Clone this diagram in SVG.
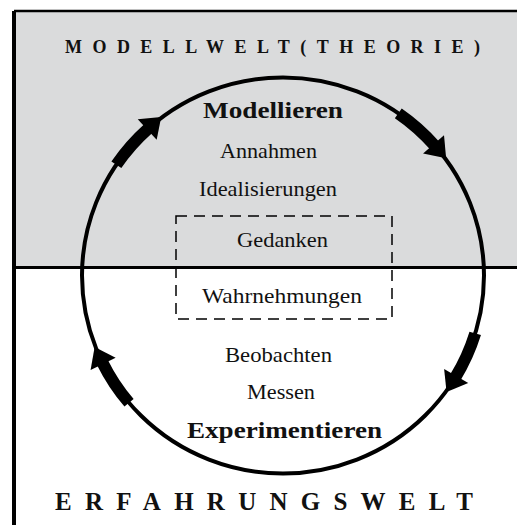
<svg xmlns="http://www.w3.org/2000/svg" width="517" height="525" viewBox="0 0 517 525">
  <defs>
    <style>
      .t { font-family: "Liberation Serif", "Times New Roman", serif; fill: #111; }
      .reg { font-size: 21px; }
      .big { font-size: 24px; font-weight: bold; }
      .cap { font-weight: bold; }
      .circle { fill: none; stroke: #000; stroke-width: 4; }
      .bar { fill: none; stroke: #000; stroke-width: 12; stroke-linecap: butt; }
      .head { fill: #000; }
    </style>
    <g id="arrowShape">
      <path class="bar" d="M201,0 A201,201 0 0 1 195.03,48.63"/>
      <polygon class="head" points="209.06,50.18 191.02,65.40 181.84,43.66"/>
    </g>
  </defs>

  <rect x="0" y="0" width="517" height="525" fill="#fff"/>

  <g id="modellwelt-region">
    <rect x="14" y="11" width="503" height="257" fill="#dadbdc"/>
    <line x1="14" y1="11" x2="517" y2="11" stroke="#000" stroke-width="2.5"/>
    <text class="t cap" x="65" y="53" font-size="18" textLength="415" lengthAdjust="spacing">MODELLWELT(THEORIE)</text>
  </g>

  <g id="erfahrungswelt-region">
    <line x1="14" y1="11" x2="14" y2="525" stroke="#000" stroke-width="4"/>
    <line x1="14" y1="267.5" x2="517" y2="267.5" stroke="#000" stroke-width="3"/>
    <text class="t cap" x="55" y="510" font-size="25" textLength="418" lengthAdjust="spacing">ERFAHRUNGSWELT</text>
  </g>

  <g id="cycle">
    <g transform="translate(283 275.5) scale(1 0.985)">
      <circle class="circle" cx="0" cy="0" r="201"/>
    </g>
  </g>

  <g id="connectors" transform="translate(283 275.5) scale(1 0.985)">
    <use href="#arrowShape" transform="rotate(214)"/>
    <use href="#arrowShape" transform="rotate(305)"/>
    <use href="#arrowShape" transform="rotate(17)"/>
    <use href="#arrowShape" transform="rotate(140)"/>
  </g>

  <g id="modellieren">
    <text class="t big" x="203" y="118" textLength="140" lengthAdjust="spacingAndGlyphs">Modellieren</text>
    <text class="t reg" x="220" y="158" textLength="97" lengthAdjust="spacingAndGlyphs">Annahmen</text>
    <text class="t reg" x="199" y="196" textLength="138" lengthAdjust="spacingAndGlyphs">Idealisierungen</text>
  </g>

  <g id="gedanken-wahrnehmungen">
    <rect x="176" y="216" width="216" height="103" fill="none" stroke="#000" stroke-width="1.5" stroke-dasharray="11 7"/>
    <text class="t reg" x="237" y="247" textLength="91" lengthAdjust="spacingAndGlyphs">Gedanken</text>
    <text class="t reg" x="202" y="303" textLength="160" lengthAdjust="spacingAndGlyphs">Wahrnehmungen</text>
  </g>

  <g id="experimentieren">
    <text class="t reg" x="225" y="362" textLength="107" lengthAdjust="spacingAndGlyphs">Beobachten</text>
    <text class="t reg" x="247" y="399" textLength="68" lengthAdjust="spacingAndGlyphs">Messen</text>
    <text class="t big" x="187" y="438" textLength="195" lengthAdjust="spacingAndGlyphs">Experimentieren</text>
  </g>
</svg>
